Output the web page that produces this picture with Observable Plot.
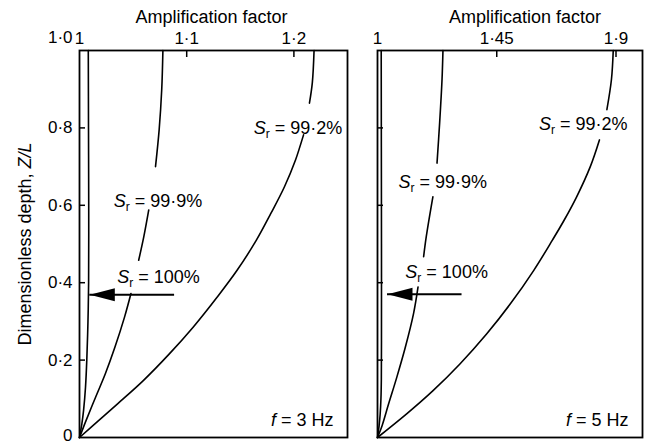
<!DOCTYPE html>
<html><head><meta charset="utf-8">
<script src="https://cdn.jsdelivr.net/npm/d3@7"></script>
<script src="https://cdn.jsdelivr.net/npm/@observablehq/plot@0.6"></script>
<style>
body{margin:0;background:#fff;}
#chart{display:flex;width:647px;height:445px;background:#fff;}
svg text{font-family:"Liberation Sans",Arial,Helvetica,sans-serif;}
</style></head><body><div id="chart"></div>
<script>
// ---- data ----
const yTicks = [0, 0.2, 0.4, 0.6, 0.8, 1.0];

// f = 3 Hz panel
const xTicks3 = [1, 1.1, 1.2];
const z3_100 = [0, 0.035, 0.07, 0.13, 0.2, 0.3, 0.4, 0.6, 0.8, 1.0];
const a3_100 = [1, 1.0022, 1.0038, 1.0056, 1.0068, 1.0079, 1.0085, 1.0086, 1.0084, 1.0082];
const z3_999 = [0, 0.043, 0.104, 0.164, 0.233, 0.311, 0.372, 0.458, 0.519, 0.588, 0.700, 0.795, 0.899, 1.0];
const a3_999 = [1, 1.0060, 1.0150, 1.0240, 1.0330, 1.0420, 1.0480, 1.0552, 1.0600, 1.0646, 1.0709, 1.0743, 1.0767, 1.0778];
const z3_992 = [0, 0.043, 0.087, 0.147, 0.216, 0.285, 0.363, 0.432, 0.510, 0.579, 0.648, 0.717, 0.782, 0.864, 0.917, 1.0];
const a3_992 = [1, 1.0175, 1.0355, 1.0595, 1.0838, 1.1060, 1.1285, 1.1470, 1.1650, 1.1785, 1.1912, 1.2015, 1.2090, 1.2145, 1.2172, 1.2188];

// f = 5 Hz panel
const xTicks5 = [1, 1.45, 1.9];
const z5_100 = [0, 0.03, 0.06, 0.1, 0.15, 0.25, 0.5, 0.75, 1.0];
const a5_100 = [1, 1.006, 1.010, 1.013, 1.0145, 1.015, 1.015, 1.0145, 1.014];
const z5_999 = [0, 0.030, 0.087, 0.156, 0.233, 0.320, 0.389, 0.467, 0.519, 0.622, 0.709, 0.813, 0.925, 1.0];
const a5_999 = [1, 1.017, 1.042, 1.073, 1.105, 1.136, 1.153, 1.174, 1.184, 1.209, 1.2246, 1.2345, 1.2435, 1.247];
const z5_992 = [0, 0.061, 0.121, 0.190, 0.268, 0.346, 0.432, 0.510, 0.562, 0.622, 0.700, 0.769, 0.847, 0.925, 1.0];
const a5_992 = [1, 1.110, 1.2096, 1.311, 1.4124, 1.5021, 1.5898, 1.660, 1.7047, 1.7515, 1.803, 1.8375, 1.8656, 1.8828, 1.8896];

// label gaps (depth ranges where a curve is interrupted by its label)
const gaps3_999 = [[0.372, 0.458], [0.588, 0.700]];
const gaps3_992 = [[0.782, 0.864]];
const gaps5_999 = [[0.389, 0.467], [0.622, 0.709]];
const gaps5_992 = [[0.769, 0.847]];

// annotations: saturation labels and anchor (amplification, depth)
const srLabels = ["99·2%", "99·9%", "100%"];
const srX3 = [1.1625, 1.0320, 1.0352];
const srZ3 = [0.785, 0.596, 0.398];
const srX5 = [1.609, 1.079, 1.105];
const srZ5 = [0.795, 0.644, 0.413];
const freqLabels = ["3 Hz", "5 Hz"];
// arrows (depth, tail amplification, tip amplification)
const arrow3 = {z: 0.369, tail: 1.0887, tip: 1.0096};
const arrow5 = {z: 0.370, tail: 1.319, tip: 1.0378};

// ---- helpers ----
const fmtX = d => d === 1 ? "1" : String(d).replace(".", "·");
const fmtY = d => d === 0 ? "0" : d.toFixed(1).replace(".", "·");

function series(name, zs, as, gaps) {
  return zs.map((z, i) => ({z, a: as[i], key: name + "-" + gaps.filter(g => z >= g[1]).length}));
}

const arrowHead = {
  draw(ctx) {
    ctx.moveTo(0, 0);
    ctx.lineTo(25, -6.5);
    ctx.lineTo(25, 6.5);
    ctx.closePath();
  }
};

const H = 445, MT = 50, MB = 8;
const innerH = H - MT - MB;

function panel({width, marginLeft, marginRight, xDomain, xTicks, curves, arrow, srX, srZ, freq, showY, titleDx}) {
  const innerW = width - marginLeft - marginRight;
  const labels = srLabels.map((s, i) => ({text: "S_r = " + s, a: srX[i], z: srZ[i]}));
  const marks = [
    Plot.ruleX(xTicks.slice(1), {stroke: "black", strokeWidth: 1.5, insetBottom: innerH - 7}),
    Plot.ruleY(yTicks.slice(1, -1), {stroke: "black", strokeWidth: 1.5, insetRight: innerW - 6}),
    Plot.axisX(xTicks, {anchor: "top", tickSize: 0, tickPadding: 7, tickFormat: fmtX, fontSize: 17, label: null}),
    Plot.line(curves, {x: "a", y: "z", z: "key", curve: "catmull-rom", stroke: "black", strokeWidth: 1.6}),
    Plot.ruleY([arrow], {y: "z", x1: "tail", x2: "tip", stroke: "black", strokeWidth: 2}),
    Plot.dot([arrow], {x: "tip", y: "z", symbol: arrowHead, fill: "black", stroke: null, r: 5}),
    Plot.text(labels, {x: "a", y: "z", text: "text", textAnchor: "start", lineAnchor: "bottom", fontSize: 18, fill: "black"}),
    Plot.text(["f = " + freq], {frameAnchor: "bottom-right", dx: -14, dy: -12, textAnchor: "end", lineAnchor: "bottom", fontSize: 18, fill: "black"}),
    Plot.text(["Amplification factor"], {frameAnchor: "top", dx: titleDx, dy: -28, textAnchor: "middle", lineAnchor: "bottom", fontSize: 18, fill: "black"}),
    Plot.frame({stroke: "black", strokeWidth: 1.8})
  ];
  if (showY) {
    marks.push(
      Plot.axisY(yTicks.slice(0, 1), {anchor: "left", tickSize: 0, tickPadding: 7, tickFormat: fmtY, fontSize: 17, label: null, dy: -2}),
      Plot.axisY(yTicks.slice(1, -1), {anchor: "left", tickSize: 0, tickPadding: 7, tickFormat: fmtY, fontSize: 17, label: null}),
      Plot.axisY(yTicks.slice(-1), {anchor: "left", tickSize: 0, tickPadding: 7, tickFormat: fmtY, fontSize: 17, label: null, dy: -13}),
      Plot.text(["Dimensionless depth, Z/L"], {frameAnchor: "left", rotate: -90, dx: -48.5, textAnchor: "middle", lineAnchor: "bottom", fontSize: 18, fill: "black"})
    );
  }
  const svg = Plot.plot({
    width, height: H,
    marginLeft, marginRight, marginTop: MT, marginBottom: MB,
    x: {domain: xDomain},
    y: {domain: [0, 1], axis: showY ? undefined : null},
    style: {fontFamily: "Liberation Sans, Arial, Helvetica, sans-serif", fontSize: "17px", color: "black", background: "white", overflow: "visible"},
    marks
  });
  d3.select(svg).selectAll("text").each(function() {
    const t = this.textContent;
    const el = d3.select(this);
    if (t.startsWith("S_r")) {
      el.text("");
      el.append("tspan").attr("font-style", "italic").text("S");
      el.append("tspan").attr("font-size", "12px").attr("dy", "4").text("r");
      el.append("tspan").attr("dy", "-4").text(t.slice(3));
    } else if (t.startsWith("f = ")) {
      el.text("");
      el.append("tspan").attr("font-style", "italic").text("f");
      el.append("tspan").text(t.slice(1));
    } else if (t.endsWith("Z/L")) {
      el.text("");
      el.append("tspan").text(t.slice(0, -3));
      el.append("tspan").attr("font-style", "italic").text("Z/L");
    }
  });
  return svg;
}

const chart = document.getElementById("chart");
chart.append(panel({
  width: 350, marginLeft: 79, marginRight: 3,
  xDomain: [1, 1.25], xTicks: xTicks3,
  curves: [
    ...series("100", z3_100, a3_100, []),
    ...series("999", z3_999, a3_999, gaps3_999),
    ...series("992", z3_992, a3_992, gaps3_992)
  ],
  arrow: arrow3, srX: srX3, srZ: srZ3, freq: freqLabels[0], showY: true, titleDx: -2
}));
chart.append(panel({
  width: 297, marginLeft: 27, marginRight: 5,
  xDomain: [1, 2], xTicks: xTicks5,
  curves: [
    ...series("100", z5_100, a5_100, []),
    ...series("999", z5_999, a5_999, gaps5_999),
    ...series("992", z5_992, a5_992, gaps5_992)
  ],
  arrow: arrow5, srX: srX5, srZ: srZ5, freq: freqLabels[1], showY: false, titleDx: 15
}));
</script></body></html>
